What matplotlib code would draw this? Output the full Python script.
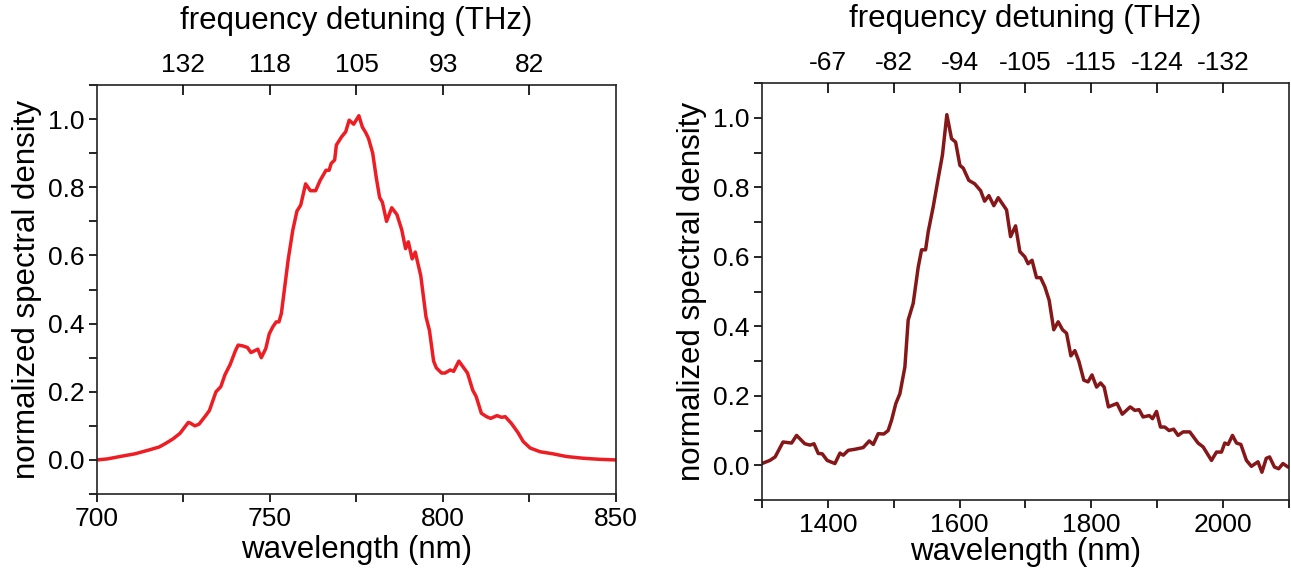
import numpy as np
import matplotlib
matplotlib.use('Agg')
from matplotlib import pyplot as plt
from matplotlib.ticker import MultipleLocator

plt.rcParams['font.family'] = ['Liberation Sans', 'DejaVu Sans']

# left spectrum (near infrared)
wl_left = [700, 703, 707.7, 711, 715.3, 718, 720.1, 722, 724, 726.4, 727, 728.3, 729.5,
           731.2, 732.5, 734.4, 735.8, 737, 738.5, 740, 740.8, 742, 743.5, 744.5, 745.5,
           746.5, 747.5, 748.8, 749.8, 750.8, 751.8, 752.6, 753.3, 754.3, 755.3, 756.6,
           757.8, 758.9, 760.3, 761.7, 763.2, 764.5, 766.2, 767.1, 767.7, 768.7, 769.2,
           770.7, 771.9, 772.9, 774.2, 775.7, 776.7, 777.7, 778.5, 779.7, 780.7, 781.7,
           782.5, 783.7, 785.2, 786.7, 788.1, 789.2, 790, 791.1, 792, 793.6, 795.1, 796.1,
           797.3, 798.1, 799.6, 800.6, 802.1, 803.1, 804.6, 806.1, 807.1, 808.6, 809.6,
           811.1, 812.6, 813.8, 815.6, 817, 818, 819.8, 821.7, 823.2, 825.2, 828.1, 831.8,
           835.7, 840.5, 845, 850]
sd_left = [0.0, 0.003, 0.012, 0.018, 0.03, 0.038, 0.05, 0.062, 0.078, 0.11, 0.108, 0.10, 0.105,
           0.127, 0.145, 0.2, 0.215, 0.25, 0.28, 0.32, 0.337, 0.335, 0.33, 0.315, 0.32,
           0.325, 0.30, 0.327, 0.37, 0.39, 0.405, 0.405, 0.43, 0.51, 0.59, 0.674,
           0.73, 0.748, 0.81, 0.79, 0.79, 0.82, 0.85, 0.85, 0.87, 0.88, 0.924,
           0.948, 0.963, 0.997, 0.985, 1.01, 0.977, 0.96, 0.943, 0.90, 0.83, 0.77,
           0.756, 0.70, 0.74, 0.72, 0.675, 0.62, 0.64, 0.59, 0.61, 0.54, 0.42, 0.38,
           0.29, 0.27, 0.255, 0.255, 0.264, 0.26, 0.29, 0.269, 0.255, 0.205, 0.186,
           0.137, 0.127, 0.122, 0.13, 0.125, 0.127, 0.107, 0.08, 0.054, 0.035, 0.024, 0.018,
           0.01, 0.005, 0.002, 0.0]

# right spectrum (mid infrared)
wl_right = [1300, 1312, 1320, 1332, 1345, 1352.6, 1365, 1373, 1379, 1385.5, 1391.5, 1399,
            1410.8, 1418.4, 1423.4, 1431, 1441, 1453.7, 1462.9, 1469, 1476.5, 1485, 1491.6,
            1496.8, 1503.3, 1509.4, 1517, 1522, 1529.6, 1537.2, 1542.3, 1548.4, 1552.4, 1560,
            1567.6, 1574, 1580.7, 1587.8, 1594, 1600.5, 1605.6, 1614, 1623, 1632, 1638,
            1644.5, 1652, 1658.7, 1671.3, 1677.4, 1685, 1691.5, 1699, 1704, 1710, 1716.8,
            1723, 1729.4, 1736, 1743, 1749.7, 1756.3, 1762.4, 1769, 1775, 1781, 1788.6,
            1795, 1801, 1808, 1814, 1819.5, 1826, 1839, 1847, 1859, 1866, 1872.5, 1878.6,
            1888, 1892.9, 1899, 1905, 1911.5, 1918, 1925, 1931.7, 1939.3, 1949.5, 1962,
            1969.7, 1982.4, 1990, 1997.6, 2002.6, 2007.7, 2014.3, 2020.4, 2027, 2035.5, 2043,
            2053, 2059, 2065.6, 2070.6, 2078, 2084.4, 2090.9, 2098.5, 2100]
sd_right = [0.005, 0.014, 0.024, 0.067, 0.064, 0.086, 0.062, 0.058, 0.062, 0.034, 0.033, 0.014,
            0.005, 0.035, 0.029, 0.043, 0.046, 0.051, 0.07, 0.06, 0.091, 0.09, 0.10,
            0.13, 0.178, 0.206, 0.283, 0.418, 0.466, 0.57, 0.62, 0.62, 0.672, 0.744,
            0.826, 0.893, 1.009, 0.94, 0.93, 0.863, 0.855, 0.82, 0.81, 0.79, 0.76,
            0.776, 0.747, 0.77, 0.735, 0.658, 0.689, 0.615, 0.60, 0.58, 0.59, 0.54,
            0.54, 0.514, 0.475, 0.39, 0.413, 0.39, 0.38, 0.315, 0.33, 0.30, 0.245,
            0.24, 0.26, 0.225, 0.237, 0.225, 0.168, 0.178, 0.147, 0.168, 0.158, 0.16, 0.139,
            0.143, 0.134, 0.155, 0.11, 0.11, 0.10, 0.104, 0.086, 0.096, 0.096, 0.064,
            0.053, 0.014, 0.038, 0.038, 0.064, 0.06, 0.086, 0.064, 0.06, 0.014, -0.003,
            0.01, -0.02, 0.02, 0.024, -0.005, -0.01, 0.005, -0.005, -0.005]

# top axes: frequency detuning labels at wavelength positions
top_pos_left = [725, 750, 775, 800, 825]
top_lab_left = ['132', '118', '105', '93', '82']
top_pos_right = [1400, 1500, 1600, 1700, 1800, 1900, 2000]
top_lab_right = ['-67', '-82', '-94', '-105', '-115', '-124', '-132']

fs_tick = 19
fs_label = 22.5

fig = plt.figure(figsize=(12.91, 5.77), dpi=100)
ax1 = fig.add_axes([0.0751, 0.1438, 0.4020, 0.7088])
ax2 = fig.add_axes([0.5902, 0.1334, 0.4082, 0.7227])

panels = [
    (ax1, wl_left, sd_left, '#EE1D24', (700, 850), 50, top_pos_left, top_lab_left, 3),
    (ax2, wl_right, sd_right, '#861719', (1300, 2100), 200, top_pos_right, top_lab_right, 0),
]

for ax, x, y, col, xlim, xstep, tpos, tlab, xpad in panels:
    ax.plot(x, y, color=col, lw=2.5)
    ax.set_xlim(*xlim)
    ax.set_ylim(-0.1, 1.1)
    ax.xaxis.set_major_locator(MultipleLocator(xstep))
    ax.xaxis.set_minor_locator(MultipleLocator(xstep / 2))
    ax.set_yticks([0.0, 0.2, 0.4, 0.6, 0.8, 1.0])
    ax.yaxis.set_minor_locator(MultipleLocator(0.1))
    ax.tick_params(which='both', direction='out', length=6, width=1.2,
                   labelsize=fs_tick, pad=3, top=False, right=False)
    for s in ax.spines.values():
        s.set_linewidth(1.2)
        s.set_color('#222222')
    ax.set_xlabel('wavelength (nm)', fontsize=fs_label, labelpad=xpad)
    ax.set_ylabel('normalized spectral density', fontsize=fs_label, labelpad=4)

    top = ax.twiny()
    top.set_xlim(*xlim)
    top.set_xticks(tpos)
    top.set_xticklabels(tlab)
    top.tick_params(direction='in', length=7, width=1.2, labelsize=fs_tick, pad=6)
    top.set_xlabel('frequency detuning (THz)', fontsize=fs_label, labelpad=17)
    for s in top.spines.values():
        s.set_visible(False)

fig.savefig('out.png', dpi=100)
